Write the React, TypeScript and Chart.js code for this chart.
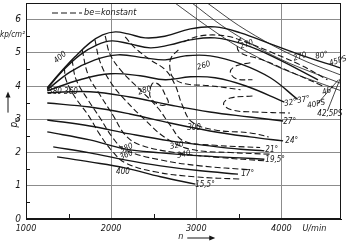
import { useEffect, useRef } from "react";
import { Chart, registerables } from "chart.js";
Chart.register(...registerables);

const X_MIN = 1000;
const X_MAX = 4700;
const Y_MIN = 0;
const Y_MAX = 6.5;
const xTicks = [1000, 2000, 3000, 4000];
const yTicks = [0, 1, 2, 3, 4, 5, 6];
const xMinor = [1500, 2500, 3500];
const yMinor = [0.5, 1.5, 2.5, 3.5, 4.5, 5.5];

// throttle-angle curves (solid)
const thr80 = [[1250,3.95],[1400,4.4],[1575,4.88],[1750,5.3],[1900,5.54],[2050,5.63],[2200,5.57],[2400,5.45],[2630,5.5],[2930,5.72],[3220,5.78],[3520,5.6],[3870,5.27],[4220,4.94],[4690,4.55]];
const thr46 = [[1250,3.92],[1420,4.43],[1635,4.94],[1835,5.24],[2010,5.36],[2220,5.27],[2460,5.15],[2690,5.24],[2930,5.39],[3220,5.45],[3575,5.24],[3930,4.85],[4430,4.19]];
const thr37 = [[1250,3.89],[1520,4.43],[1810,4.79],[2080,4.94],[2400,4.85],[2635,4.79],[2870,4.91],[3165,4.91],[3520,4.67],[3870,4.25],[4190,3.6]];
const thr32 = [[1250,3.86],[1635,4.19],[1990,4.37],[2340,4.31],[2635,4.19],[2930,4.28],[3220,4.25],[3575,4.01],[4035,3.52]];
const thr27 = [[1250,3.8],[1750,3.83],[2220,3.67],[2690,3.43],[3160,3.22],[3630,3.07],[4020,2.95]];
const thr24 = [[1250,3.49],[1750,3.37],[2220,3.16],[2690,2.89],[3160,2.65],[3630,2.47],[4020,2.35]];
const thr21 = [[1250,2.98],[1750,2.8],[2220,2.56],[2690,2.35],[3160,2.2],[3520,2.1],[3800,2.05]];
const thr195 = [[1250,2.62],[1750,2.38],[2160,2.11],[2580,1.99],[3050,1.9],[3520,1.84],[3800,1.8]];
const thr17 = [[1320,2.17],[1750,1.99],[2160,1.78],[2580,1.6],[3050,1.45],[3490,1.35]];
const thr155 = [[1365,1.87],[1750,1.72],[2160,1.54],[2580,1.27],[2990,1.05]];

// specific consumption be = konstant (dashed)
const be400 = [[1450,4.55],[1470,4.19],[1575,3.67],[1730,3.13],[1870,2.53],[2020,2.02],[2165,1.69],[2515,1.42],[2990,1.27],[3520,1.2]];
const be380 = [[1540,4.79],[1590,4.19],[1730,3.58],[1870,3.04],[2020,2.44],[2165,2.08],[2575,1.78],[3045,1.6],[3635,1.48]];
const be360 = [[1660,5.09],[1730,4.34],[1870,3.73],[2020,3.13],[2165,2.53],[2340,2.23],[2750,2.0],[3280,1.85],[3810,1.75]];
const be340 = [[1810,5.39],[1870,4.73],[1990,4.13],[2165,3.58],[2400,2.98],[2635,2.45],[2930,2.1],[3400,2.0],[3870,1.95]];
const be320 = [[1930,5.51],[1990,4.94],[2130,4.43],[2340,3.89],[2550,3.34],[2700,2.8],[2850,2.35],[3220,2.22],[3750,2.15]];
const be300 = [[2165,5.48],[2280,5.15],[2460,4.79],[2635,4.49],[2750,4.04],[2835,3.43],[2950,2.92],[3220,2.68],[3635,2.59],[3850,2.47]];
const be290 = [[3660,3.7],[3400,3.64],[3320,3.46],[3420,3.28],[3690,3.22],[4100,3.19]];
const be280a = [[2460,3.95],[2495,4.1],[2575,4.01],[2635,3.73],[2670,3.49],[2575,3.43],[2460,3.67],[2460,3.95]];
const be280b = [[2790,5.09],[2705,4.85],[2690,4.55],[2730,4.25],[2870,4.07],[3165,4.01],[3520,3.89]];
const be270a = [[2850,5.33],[3045,5.51],[3340,5.51],[3575,5.33],[3870,5.03],[4220,4.64],[4540,4.19]];
const be270b = [[3520,5.45],[3480,5.21],[3520,5.0],[3775,4.79],[4105,4.43],[4480,4.01]];
const be260 = [[3635,4.7],[3470,4.61],[3400,4.43],[3470,4.22],[3660,4.19]];

// constant power lines (thin)
const ps45 = [[3130,6.5],[3500,5.82],[3900,5.22],[4300,4.73],[4700,4.33]];
const ps425 = [[2950,6.5],[3300,5.82],[3700,5.19],[4100,4.68],[4700,4.08]];
const ps40 = [[2750,6.5],[3100,5.85],[3500,5.17],[4000,4.53],[4700,3.86]];
const lead40 = [[4430,3.49],[4670,4.19]];
const lead425 = [[4540,3.25],[4690,4.22]];

const curveLabels = [
  { t: "400", x: 1341, y: 4.73, r: -0.7 },
  { t: "380 360", x: 1259, y: 3.82, r: 0 },
  { t: "260", x: 3011, y: 4.55, r: -0.3 },
  { t: "270", x: 3517, y: 5.18, r: -0.35 },
  { t: "270", x: 4140, y: 4.82, r: -0.3 },
  { t: "80°", x: 4399, y: 4.88, r: -0.2 },
  { t: "45PS", x: 4563, y: 4.67, r: -0.3 },
  { t: "280", x: 2317, y: 3.8, r: -0.3 },
  { t: "300", x: 2893, y: 2.74, r: 0 },
  { t: "320", x: 2693, y: 2.17, r: -0.2 },
  { t: "340", x: 2776, y: 1.9, r: -0.2 },
  { t: "380", x: 2105, y: 2.05, r: -0.4 },
  { t: "360", x: 2105, y: 1.84, r: -0.4 },
  { t: "400", x: 2058, y: 1.42, r: 0 },
  { t: "32°", x: 4034, y: 3.46, r: -0.2 },
  { t: "37°", x: 4187, y: 3.55, r: -0.2 },
  { t: "40PS", x: 4305, y: 3.4, r: -0.2 },
  { t: "46°", x: 4481, y: 3.8, r: -0.3 },
  { t: "42,5PS", x: 4422, y: 3.16, r: 0 },
  { t: "27°", x: 4022, y: 2.92, r: 0 },
  { t: "24°", x: 4046, y: 2.35, r: 0 },
  { t: "21°", x: 3811, y: 2.08, r: 0 },
  { t: "19,5°", x: 3811, y: 1.78, r: 0 },
  { t: "17°", x: 3528, y: 1.36, r: 0 },
  { t: "15,5°", x: 2987, y: 1.02, r: 0 },
];

const FONT = '"DejaVu Sans Condensed", "Liberation Sans", sans-serif';
const INK = "#161616";

const solid = [thr80, thr46, thr37, thr32, thr27, thr24, thr21, thr195, thr17, thr155];
const dashed = [be400, be380, be360, be340, be320, be300, be290, be280a, be280b, be270a, be270b, be260];
const thin = [ps45, ps425, ps40, lead40, lead425];

const toXY = (c: number[][]) => c.map(([x, y]) => ({ x, y }));

const overlay = {
  id: "overlay",
  afterDraw(chart: any) {
    const { ctx, chartArea: a, scales } = chart;
    const x = scales.x;
    const y = scales.y;
    ctx.save();
    ctx.strokeStyle = INK;
    ctx.lineWidth = 1;
    ctx.strokeRect(a.left + 0.5, a.top + 0.5, a.right - a.left - 1, a.bottom - a.top - 1);
    ctx.beginPath();
    for (const v of xMinor) {
      const px = Math.round(x.getPixelForValue(v)) + 0.5;
      ctx.moveTo(px, a.bottom);
      ctx.lineTo(px, a.bottom - 5);
    }
    for (const v of yMinor) {
      const py = Math.round(y.getPixelForValue(v)) + 0.5;
      ctx.moveTo(a.left, py);
      ctx.lineTo(a.left + 4, py);
    }
    ctx.stroke();

    ctx.fillStyle = INK;
    ctx.font = `italic 8px ${FONT}`;
    ctx.textAlign = "left";
    ctx.textBaseline = "middle";
    for (const l of curveLabels) {
      ctx.save();
      ctx.translate(x.getPixelForValue(l.x), y.getPixelForValue(l.y));
      ctx.rotate(l.r);
      ctx.fillText(l.t, 0, 0);
      ctx.restore();
    }

    // legend
    const ly = a.top + 10;
    ctx.save();
    ctx.setLineDash([6, 3]);
    ctx.lineWidth = 1.2;
    ctx.beginPath();
    ctx.moveTo(a.left + 26, ly);
    ctx.lineTo(a.left + 56, ly);
    ctx.stroke();
    ctx.restore();
    ctx.font = `italic 9px ${FONT}`;
    ctx.fillText("be=konstant", a.left + 58, ly);

    // axis titles
    ctx.font = `italic 8px ${FONT}`;
    ctx.fillText("kp/cm²", 0, y.getPixelForValue(5.55));
    ctx.font = `italic 9px ${FONT}`;
    ctx.fillText("U/min", x.getPixelForValue(4000) + 21, a.bottom + 10);
    const nx = x.getPixelForValue(3000) - 18;
    const ny = a.bottom + 18;
    ctx.fillText("n", nx, ny);
    ctx.beginPath();
    ctx.moveTo(nx + 9, ny + 1);
    ctx.lineTo(nx + 35, ny + 1);
    ctx.stroke();
    ctx.beginPath();
    ctx.moveTo(nx + 37, ny + 1);
    ctx.lineTo(nx + 31, ny - 1.5);
    ctx.lineTo(nx + 31, ny + 3.5);
    ctx.closePath();
    ctx.fill();

    // p_e rotated with arrow
    ctx.save();
    ctx.translate(14, y.getPixelForValue(2.75));
    ctx.rotate(-Math.PI / 2);
    ctx.font = `italic 10px ${FONT}`;
    ctx.fillText("p", 0, 0);
    ctx.font = `italic 7px ${FONT}`;
    ctx.fillText("e", 6, 3);
    ctx.beginPath();
    ctx.moveTo(15, -6);
    ctx.lineTo(33, -6);
    ctx.stroke();
    ctx.beginPath();
    ctx.moveTo(36, -6);
    ctx.lineTo(30, -8.5);
    ctx.lineTo(30, -3.5);
    ctx.closePath();
    ctx.fill();
    ctx.restore();
    ctx.restore();
  },
};

export default function App() {
  const ref = useRef<HTMLCanvasElement>(null);
  useEffect(() => {
    if (!ref.current) return;
    const datasets: any[] = [];
    solid.forEach((c) =>
      datasets.push({ data: toXY(c), borderColor: INK, borderWidth: 1.4, pointRadius: 0, tension: 0.4, fill: false })
    );
    dashed.forEach((c) =>
      datasets.push({ data: toXY(c), borderColor: INK, borderWidth: 1.1, borderDash: [6, 3], pointRadius: 0, tension: 0.4, fill: false })
    );
    thin.forEach((c) =>
      datasets.push({ data: toXY(c), borderColor: INK, borderWidth: 0.8, pointRadius: 0, tension: 0.3, fill: false })
    );
    const chart = new Chart(ref.current, {
      type: "line",
      data: { datasets },
      options: {
        animation: false,
        responsive: false,
        devicePixelRatio: 1,
        layout: { padding: { left: 0, right: 12, top: 3, bottom: 0 } },
        plugins: { legend: { display: false }, tooltip: { enabled: false } },
        scales: {
          x: {
            type: "linear",
            min: X_MIN,
            max: X_MAX,
            afterBuildTicks: (s: any) => { s.ticks = xTicks.map((v) => ({ value: v })); },
            afterFit: (s: any) => { s.height = 24; s.paddingLeft = 0; s.paddingRight = 0; s.paddingTop = 0; s.paddingBottom = 0; },
            grid: { color: "#8c8c8c", lineWidth: 1, drawTicks: false },
            border: { display: true, color: INK, width: 1 },
            ticks: { padding: 4, color: INK, font: { family: FONT, size: 9, style: "italic" }, callback: (v: any) => String(v) },
          },
          y: {
            type: "linear",
            min: Y_MIN,
            max: Y_MAX,
            afterBuildTicks: (s: any) => { s.ticks = yTicks.map((v) => ({ value: v })); },
            afterFit: (s: any) => { s.width = 26; s.paddingTop = 0; s.paddingBottom = 0; s.paddingLeft = 0; s.paddingRight = 0; },
            grid: { color: "#8c8c8c", lineWidth: 1, drawTicks: false },
            border: { display: true, color: INK, width: 1 },
            ticks: { padding: 5, color: INK, font: { family: FONT, size: 10, style: "italic" }, callback: (v: any) => String(v) },
          },
        },
      },
      plugins: [overlay],
    });
    return () => chart.destroy();
  }, []);
  return (
    <div style={{ position: "fixed", left: 0, top: 0, width: 353, height: 243, background: "#fff" }}>
      <canvas ref={ref} width={353} height={243} style={{ display: "block" }} />
    </div>
  );
}
